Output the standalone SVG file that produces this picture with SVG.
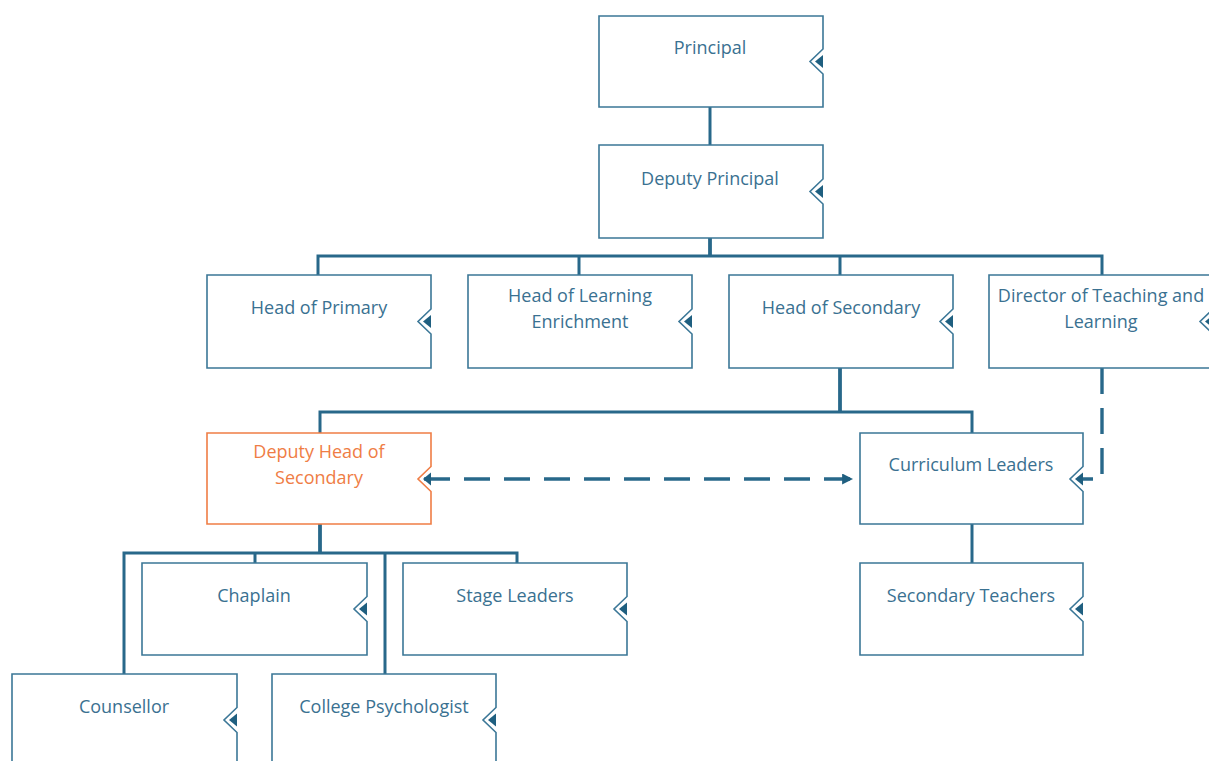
<svg xmlns="http://www.w3.org/2000/svg" width="1209" height="761" viewBox="0 0 1209 761">
<defs>
<style>
.box{fill:#fff;stroke:#3b7797;stroke-width:1.6}
.box.orange{stroke:#ef7d45}
.tri{fill:#1f5f80}
.t{font-family:"Open Sans","Noto Sans",sans-serif;font-size:18px;font-weight:500;fill:#3a7191;text-anchor:middle}
.t.orange{fill:#ef7d45}
.c{fill:none;stroke:#28688a;stroke-width:3}
.ct{fill:none;stroke:#28688a;stroke-width:3.8}
.d{fill:none;stroke:#28688a;stroke-width:3.4;stroke-dasharray:26 14}
</style>
<marker id="ah" viewBox="0 0 10 10" refX="9" refY="5" markerWidth="11" markerHeight="11" markerUnits="userSpaceOnUse" orient="auto"><path d="M0,0 L10,5 L0,10 Z" fill="#1f5f80"/></marker>
</defs>
<rect width="1209" height="761" fill="#fff"/>
<g id="connectors">
<path class="c" d="M710,107 V145"/>
<path class="ct" d="M710,238 V256"/>
<path class="c" d="M318,275 V256 H1102 V275 M579,256 V275 M840,256 V275"/>
<path class="ct" d="M840,368 V412"/>
<path class="c" d="M320,433 V412 H972 V433"/>
<path class="c" d="M972,524 V563"/>
<path class="ct" d="M320,524 V553"/>
<path class="c" d="M124,674 V553 H517 V563 M255,553 V563 M385,553 V674"/>
<path class="d" d="M424,479 H852" marker-end="url(#ah)"/>
<path class="d" d="M1102,368 V479 H1078"/>
</g>
<g id="principal">
<path class="box" d="M599,16 H823 V49 L810,61.5 L823,74 V107 H599 Z"/>
<path class="tri" d="M815,61.5 L823,55 V68 Z"/>
<text class="t" x="710" y="54">Principal</text>
</g>
<g id="deputy-principal">
<path class="box" d="M599,145 H823 V179 L810,191.5 L823,204 V238 H599 Z"/>
<path class="tri" d="M815,191.5 L823,185 V198 Z"/>
<text class="t" x="710" y="185">Deputy Principal</text>
</g>
<g id="head-primary">
<path class="box" d="M207,275 H431 V309 L418,321.5 L431,334 V368 H207 Z"/>
<path class="tri" d="M423,321.5 L431,315 V328 Z"/>
<text class="t" x="319" y="314">Head of Primary</text>
</g>
<g id="head-learning-enrichment">
<path class="box" d="M468,275 H692 V309 L679,321.5 L692,334 V368 H468 Z"/>
<path class="tri" d="M684,321.5 L692,315 V328 Z"/>
<text class="t" x="580" y="302">Head of Learning</text>
<text class="t" x="580" y="328">Enrichment</text>
</g>
<g id="head-secondary">
<path class="box" d="M729,275 H953 V309 L940,321.5 L953,334 V368 H729 Z"/>
<path class="tri" d="M945,321.5 L953,315 V328 Z"/>
<text class="t" x="841" y="314">Head of Secondary</text>
</g>
<g id="director-teaching-learning">
<path class="box" d="M989,275 H1213 V309 L1200,321.5 L1213,334 V368 H989 Z"/>
<path class="tri" d="M1205,321.5 L1213,315 V328 Z"/>
<text class="t" x="1101" y="302">Director of Teaching and</text>
<text class="t" x="1101" y="328">Learning</text>
</g>
<g id="deputy-head-secondary">
<path class="box orange" d="M207,433 H431 V466.5 L418,479 L431,491.5 V524 H207 Z"/>
<path class="tri" d="M423,479 L431,472.5 V485.5 Z"/>
<text class="t orange" x="319" y="458">Deputy Head of</text>
<text class="t orange" x="319" y="484">Secondary</text>
</g>
<g id="curriculum-leaders">
<path class="box" d="M860,433 H1083 V466.5 L1070,479 L1083,491.5 V524 H860 Z"/>
<path class="tri" d="M1075,479 L1083,472.5 V485.5 Z"/>
<text class="t" x="971" y="471">Curriculum Leaders</text>
</g>
<g id="secondary-teachers">
<path class="box" d="M860,563 H1083 V596.5 L1070,609 L1083,621.5 V655 H860 Z"/>
<path class="tri" d="M1075,609 L1083,602.5 V615.5 Z"/>
<text class="t" x="971" y="602">Secondary Teachers</text>
</g>
<g id="chaplain">
<path class="box" d="M142,563 H367 V596.5 L354,609 L367,621.5 V655 H142 Z"/>
<path class="tri" d="M359,609 L367,602.5 V615.5 Z"/>
<text class="t" x="254" y="602">Chaplain</text>
</g>
<g id="stage-leaders">
<path class="box" d="M403,563 H627 V596.5 L614,609 L627,621.5 V655 H403 Z"/>
<path class="tri" d="M619,609 L627,602.5 V615.5 Z"/>
<text class="t" x="515" y="602">Stage Leaders</text>
</g>
<g id="counsellor">
<path class="box" d="M12,674 H237 V707.5 L224,720 L237,732.5 V770 H12 Z"/>
<path class="tri" d="M229,720 L237,713.5 V726.5 Z"/>
<text class="t" x="124" y="713">Counsellor</text>
</g>
<g id="college-psychologist">
<path class="box" d="M272,674 H496 V707.5 L483,720 L496,732.5 V770 H272 Z"/>
<path class="tri" d="M488,720 L496,713.5 V726.5 Z"/>
<text class="t" x="384" y="713">College Psychologist</text>
</g>
</svg>
